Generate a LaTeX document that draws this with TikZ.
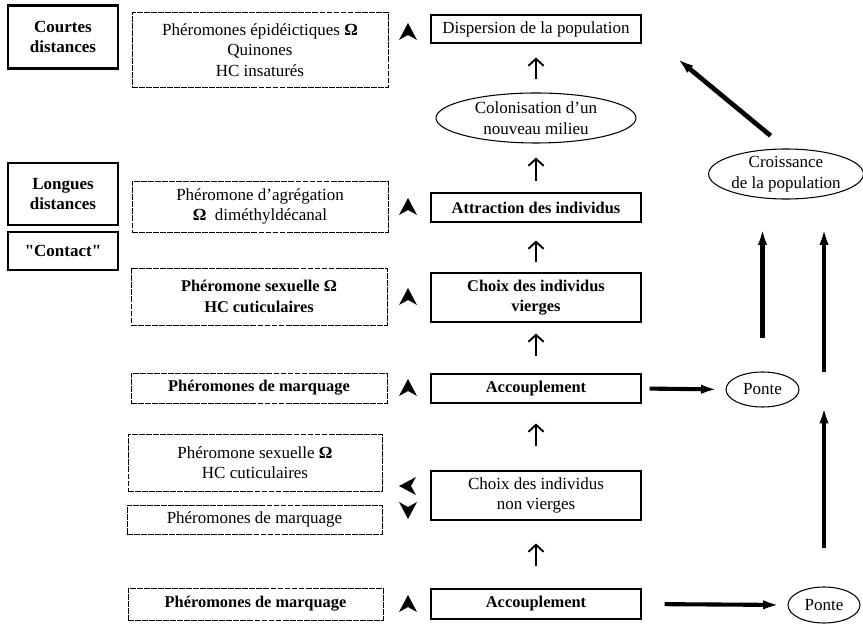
\documentclass[tikz,border=0pt]{standalone}
\usepackage{fontspec}
\setmainfont{Liberation Serif}
\usetikzlibrary{shapes.geometric,arrows.meta}

\tikzset{
  portee/.style={draw, line width=2pt, align=center, inner sep=0pt, minimum width=3.3cm, font=\fontsize{14.5}{16.5}\selectfont\bfseries},
  signal/.style={draw, dash pattern=on 5pt off 1pt, line width=0.8pt, align=center, inner sep=0pt, minimum width=7.68cm},
  etape/.style={draw, line width=0.9pt, align=center, inner sep=0pt, minimum width=6.3cm},
  bulle/.style={draw, ellipse, line width=0.9pt, align=center, inner sep=0pt},
  gras/.style={font=\fontsize{14}{17.5}\selectfont\bfseries},
  monte/.style={-{Straight Barb[length=6pt,width=13pt]}, line width=1.6pt},
  gros/.style={-{Latex[length=14pt,width=8pt]}, line width=3.5pt},
}

\begin{document}
\begin{tikzpicture}[x=0.03cm, y=-0.03cm, font=\fontsize{14.5}{17.5}\selectfont]
    \useasboundingbox (0,0) rectangle (863,625);

    % portee des signaux
    \node[portee, minimum height=1.89cm] (courtes) at (63,37) {Courtes\\distances};
    \node[portee, minimum height=1.86cm] (longues) at (63,194) {Longues\\distances};
    \node[portee, minimum height=1.14cm] (contact) at (63,251) {\textquotedbl Contact\textquotedbl};

    % pheromones
    \node[signal, minimum height=2.25cm] (epid) at (260,50) {Phéromones épidéictiques \textbf{Ω}\\Quinones\\HC insaturés};
    \node[signal, minimum height=1.53cm] (agreg) at (260,206.5) {Phéromone d'agrégation\\\textbf{Ω}~~diméthyldécanal};
    \node[signal, gras, minimum height=1.71cm] (sexA) at (259,296.5) {Phéromone sexuelle Ω\\HC cuticulaires};
    \node[signal, gras, minimum height=0.9cm] (marqA) at (259,388) {Phéromones de marquage};
    \node[signal, minimum width=7.62cm, minimum height=1.71cm] (sexB) at (255,462.5) {Phéromone sexuelle \textbf{Ω}\\HC cuticulaires};
    \node[signal, minimum width=7.65cm, minimum height=0.87cm] (marqB) at (254.5,519.5) {Phéromones de marquage};
    \node[signal, gras, minimum width=7.65cm, minimum height=0.96cm] (marqC) at (255.5,604) {Phéromones de marquage};

    % sequence comportementale
    \node[etape, minimum height=0.84cm] (disp) at (536,29) {Dispersion de la population};
    \node[bulle, minimum width=6cm, minimum height=1.5cm] (colon) at (536,118) {Colonisation d'un\\nouveau milieu};
    \node[etape, gras, minimum height=0.87cm] (attr) at (536,207.5) {Attraction des individus};
    \node[etape, gras, minimum height=1.47cm] (choixv) at (536,297.5) {Choix des individus\\vierges};
    \node[etape, gras, minimum height=0.87cm] (accA) at (536,388.5) {Accouplement};
    \node[etape, minimum height=1.47cm] (choixnv) at (536,495.5) {Choix des individus\\non vierges};
    \node[etape, gras, minimum height=0.9cm] (accB) at (536,604) {Accouplement};

    \node[bulle, minimum width=2.19cm, minimum height=1.05cm] (ponteA) at (762.5,389.5) {Ponte};
    \node[bulle, minimum width=2.16cm, minimum height=1.08cm] (ponteB) at (824,605) {Ponte};
    \node[bulle, minimum width=4.56cm, minimum height=1.44cm] (croiss) at (786,174) {Croissance\\de la population};

    % fleches noires
    \foreach \y/\r in {32/0, 207/0, 297/0, 388/0, 486/90, 510/180, 604/0}
        \fill[shift={(408,\y)}, rotate=\r] (0,-9) -- (9,8) -- (0,3) -- (-9,8) -- cycle;

    \foreach \a/\b/\s/\t in {colon/disp/0.39cm/0.42cm, attr/colon/0.33cm/0.42cm,
        choixv/attr/0.30cm/0.54cm, accA/choixv/0.51cm/0.33cm,
        choixnv/accA/0.72cm/0.60cm, accB/choixnv/0.66cm/0.69cm}
        \draw[monte, shorten <=\s, shorten >=\t] (\a) -- (\b);

    \draw[gros, shorten <=0.24cm, shorten >=0.24cm] (accA.east) -- (ponteA.west);
    \draw[gros, shorten <=0.69cm, shorten >=0.24cm] (accB.east) -- (ponteB.west);

    \coordinate (relais) at (824,407);
    \draw[gros, line width=4pt, shorten <=1.14cm] (ponteB.north) -- (relais);
    \draw[gros, line width=4pt, shorten <=1.05cm, shorten >=0.87cm] (relais) -- (relais |- croiss.south);
    \draw[gros, line width=4pt, shorten <=0.99cm, shorten >=0.87cm] (ponteA.north) -- (ponteA.north |- croiss.south);
    \draw[gros, line width=4pt, shorten <=0.6cm, shorten >=1.4cm] (croiss.north) -- (disp.east);
\end{tikzpicture}
\end{document}
